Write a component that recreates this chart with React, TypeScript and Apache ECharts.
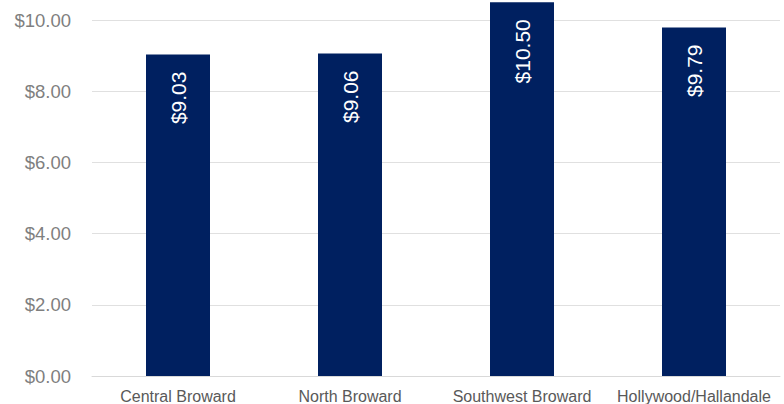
import React, { useEffect, useRef } from "react";
import * as echarts from "echarts";

const categories = ["Central Broward", "North Broward", "Southwest Broward", "Hollywood/Hallandale"];
const values = [9.03, 9.06, 10.5, 9.79];
const yTicks = [0, 2, 4, 6, 8, 10];

export default function App() {
  const ref = useRef<HTMLDivElement>(null);
  useEffect(() => {
    document.body.style.margin = "0";
    if (!ref.current) return;
    const chart = echarts.init(ref.current, undefined, { renderer: "svg" });
    chart.setOption({
      animation: false,
      backgroundColor: "#ffffff",
      grid: { left: 92, right: 4, top: 20, bottom: 26, containLabel: false },
      xAxis: {
        type: "category",
        data: categories,
        axisTick: { show: false },
        axisLine: { show: true, lineStyle: { color: "#d9d9d9", width: 1 } },
        axisLabel: {
          color: "#595959",
          fontSize: 16,
          fontFamily: "Liberation Sans, Arial, sans-serif",
          margin: 12,
          interval: 0,
        },
      },
      yAxis: {
        type: "value",
        min: yTicks[0],
        max: yTicks[yTicks.length - 1],
        interval: 2,
        axisLine: { show: false },
        axisTick: { show: false },
        splitLine: { lineStyle: { color: "#e0e0e0", width: 1 } },
        axisLabel: {
          color: "#7f7f7f",
          fontSize: 18.5,
          fontFamily: "Liberation Sans, Arial, sans-serif",
          margin: 21,
          formatter: (v: number) => "$" + v.toFixed(2),
        },
      },
      series: [
        {
          type: "bar",
          data: values,
          barWidth: 64,
          clip: false,
          itemStyle: { color: "#002060" },
          label: {
            show: true,
            position: "insideTop",
            rotate: 90,
            align: "right",
            verticalAlign: "middle",
            distance: 17,
            color: "#ffffff",
            fontSize: 21,
            fontFamily: "Liberation Sans, Arial, sans-serif",
            formatter: (p: any) => "$" + Number(p.value).toFixed(2),
          },
        },
      ],
    });
    return () => chart.dispose();
  }, []);
  return <div ref={ref} style={{ width: 784, height: 404 }} />;
}
